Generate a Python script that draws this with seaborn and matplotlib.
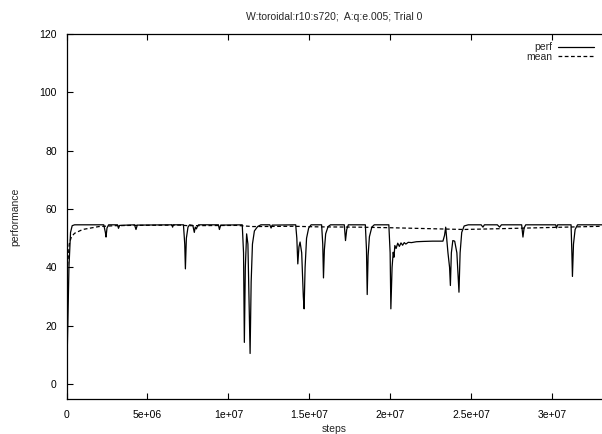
import matplotlib
matplotlib.use("Agg")
import matplotlib.pyplot as plt
import seaborn as sns
import pandas as pd

# ---- data ----
perf_steps = [
    0, 0.08e6, 0.15e6, 0.25e6, 0.35e6, 0.5e6,
    2.3e6, 2.4e6, 2.44e6, 2.5e6, 2.6e6,
    3.15e6, 3.21e6, 3.28e6,
    4.2e6, 4.29e6, 4.37e6,
    6.5e6, 6.55e6, 6.6e6,
    7.22e6, 7.3e6, 7.34e6, 7.4e6, 7.5e6, 7.6e6,
    7.8e6, 7.89e6, 7.95e6, 8.02e6, 8.07e6, 8.15e6,
    9.38e6, 9.44e6, 9.52e6,
    10.85e6, 10.93e6, 10.98e6, 11.04e6, 11.12e6, 11.2e6, 11.3e6, 11.335e6,
    11.4e6, 11.48e6, 11.6e6, 11.8e6, 12.0e6,
    12.55e6, 12.63e6, 12.7e6,
    14.15e6, 14.22e6, 14.28e6, 14.35e6, 14.42e6, 14.52e6, 14.62e6, 14.67e6,
    14.73e6, 14.82e6, 14.95e6, 15.1e6,
    15.75e6, 15.82e6, 15.865e6, 15.92e6, 16.0e6, 16.15e6, 16.3e6,
    17.15e6, 17.2e6, 17.225e6, 17.3e6, 17.4e6,
    18.45e6, 18.52e6, 18.565e6, 18.62e6, 18.7e6, 18.85e6, 19.0e6,
    19.9e6, 19.98e6, 20.025e6, 20.1e6, 20.17e6, 20.22e6, 20.27e6, 20.35e6,
    20.45e6, 20.55e6, 20.65e6, 20.75e6, 20.85e6, 20.95e6, 21.1e6, 21.3e6,
    21.6e6, 22.0e6, 22.6e6, 23.24e6, 23.34e6, 23.41e6, 23.47e6, 23.55e6,
    23.65e6, 23.70e6, 23.76e6, 23.85e6, 23.965e6, 24.1e6, 24.23e6, 24.3e6,
    24.4e6, 24.55e6, 24.8e6,
    25.6e6, 25.71e6, 25.8e6, 26.6e6, 26.74e6, 26.85e6,
    28.1e6, 28.15e6, 28.18e6, 28.25e6, 28.35e6,
    30.2e6, 30.25e6, 30.32e6,
    31.15e6, 31.2e6, 31.235e6, 31.3e6, 31.4e6, 31.55e6,
    33.06e6,
]
perf_values = [
    0, 20, 40, 52, 54.3, 54.6,
    54.6, 52, 50.4, 53.5, 54.6,
    54.6, 53.4, 54.4,
    54.6, 53.0, 54.5,
    54.6, 53.8, 54.6,
    54.6, 48, 39.5, 50, 53.8, 54.6,
    54.4, 52, 53.8, 53.2, 53.9, 54.6,
    54.6, 53.0, 54.5,
    54.6, 45, 14.3, 40, 51.5, 48, 20, 10.5,
    35, 48, 52.5, 54.0, 54.6,
    54.6, 53.5, 54.5,
    54.6, 50, 41.2, 47, 48.7, 45, 30, 25.8,
    40, 50, 53.5, 54.6,
    54.6, 48, 36.4, 46, 51.5, 54.0, 54.6,
    54.6, 51, 49.2, 53, 54.6,
    54.6, 46, 30.7, 44, 50.5, 53.8, 54.6,
    54.6, 45, 25.8, 40, 45.2, 43.5, 47.5, 46.5,
    48.3, 47.2, 48.4, 47.6, 48.5, 48.0, 48.6, 48.5,
    48.8, 48.9, 49.0, 49.0, 51, 53.8, 50, 45,
    40, 33.8, 45, 49.2, 49.0, 45, 31.5, 45,
    52, 54.2, 54.6,
    54.6, 53.8, 54.6, 54.6, 53.8, 54.6,
    54.6, 52, 50.4, 53.5, 54.6,
    54.6, 53.5, 54.6,
    54.6, 45, 36.9, 48, 53, 54.6,
    54.6,
]
mean_steps = [
    0, 0.02e6, 0.06e6, 0.17e6, 0.3e6, 0.5e6, 1.0e6, 2.0e6, 3.0e6, 4.0e6,
    7.0e6, 7.5e6, 10.5e6, 11.5e6, 14.0e6, 15.5e6, 18e6, 20e6, 23e6, 24.5e6,
    27e6, 30e6, 33.06e6,
]
mean_values = [
    0, 15, 40, 48, 50.5, 51.7, 53.0, 54.0, 54.3, 54.4,
    54.5, 54.3, 54.4, 54.0, 54.1, 53.9, 53.8, 53.6, 53.2, 53.0,
    53.3, 53.7, 54.1,
]
series_names = ["perf", "mean"]
x_ticks = [0, 5e6, 1e7, 1.5e7, 2e7, 2.5e7, 3e7]
x_tick_labels = ["0", "5e+06", "1e+07", "1.5e+07", "2e+07", "2.5e+07", "3e+07"]
y_ticks = [0, 20, 40, 60, 80, 100, 120]
title = "W:toroidal:r10:s720;  A:q:e.005; Trial 0"

df = pd.concat([
    pd.DataFrame({"steps": perf_steps, "performance": perf_values, "series": series_names[0]}),
    pd.DataFrame({"steps": mean_steps, "performance": mean_values, "series": series_names[1]}),
], ignore_index=True)

sns.set_theme(style="ticks")
plt.rcParams["font.family"] = ["Liberation Sans", "DejaVu Sans"]

fig = plt.figure(figsize=(6.02, 4.34), dpi=100)
ax = fig.add_axes([66.5 / 602, 1 - 398.7 / 434, 1 - 66.5 / 602, (398.7 - 34) / 434])

sns.lineplot(
    data=df, x="steps", y="performance", hue="series", style="series",
    palette={"perf": "black", "mean": "black"},
    dashes={"perf": "", "mean": (3, 2)},
    estimator=None, sort=False, linewidth=0.9, ax=ax,
)

ax.set_xlim(0, 3.306e7)
ax.set_ylim(-5, 120)
ax.set_xticks(x_ticks)
ax.set_xticklabels(x_tick_labels)
ax.set_yticks(y_ticks)
ax.tick_params(direction="in", length=4, width=0.8, labelsize=7.5, colors="black",
               top=True, right=False, pad=7)
ax.tick_params(axis="x", pad=8)
for s in ["left", "bottom", "top"]:
    ax.spines[s].set_color("black")
    ax.spines[s].set_linewidth(0.9)
ax.spines["right"].set_visible(False)

ax.set_xlabel("steps", fontsize=7.5, labelpad=3)
ax.set_ylabel("performance", fontsize=7.5, labelpad=14)
ax.set_title(title, fontsize=7.5, pad=10)

leg = ax.legend(loc="upper right", frameon=False, markerfirst=False, fontsize=7.5,
                handlelength=3.4, handletextpad=0.6, labelspacing=-0.05,
                borderaxespad=0.4)
for t in leg.get_texts():
    t.set_ha("right")

fig.savefig("out.png", dpi=100)
